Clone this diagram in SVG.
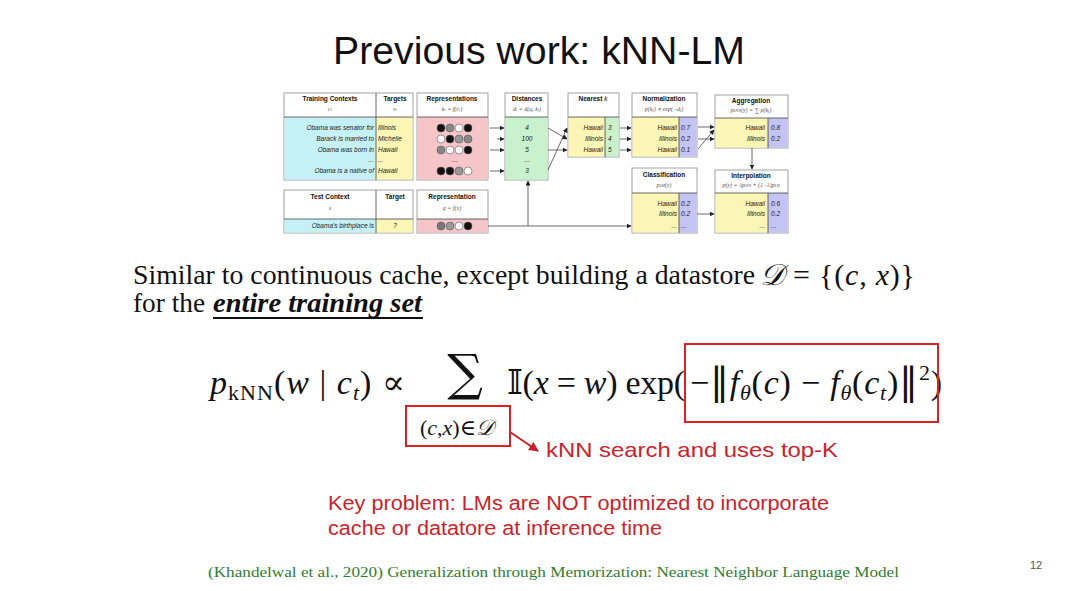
<svg xmlns="http://www.w3.org/2000/svg" width="1080" height="591" viewBox="0 0 1080 591">
<defs>
<style>
.t{font-family:"Liberation Sans",Arial,sans-serif;fill:#111}
.h{font-family:"Liberation Sans",Arial,sans-serif;font-size:6.5px;font-weight:bold;fill:#111;text-anchor:middle}
.s{font-family:"Liberation Serif",serif;font-size:6px;font-style:italic;fill:#555;text-anchor:middle}
.c{font-family:"Liberation Sans",Arial,sans-serif;font-size:6.5px;font-style:italic;fill:#222}
.r{text-anchor:end}
.m{text-anchor:middle}
.box{fill:#fff;stroke:#8a8a8a;stroke-width:0.8}
.cy{fill:#c5f1f6}
.ye{fill:#fbf6b5}
.pk{fill:#f5c5c8}
.gr{fill:#c8f1cc}
.bl{fill:#c3c3f4}
.ln{stroke:#444;stroke-width:0.8;fill:none}
.math{font-family:"Liberation Serif","DejaVu Serif",serif;fill:#111}
.red{fill:none;stroke:#e02020;stroke-width:2}
.rt{font-family:"Liberation Sans",Arial,sans-serif;fill:#c8232c}
</style>
<marker id="a" markerWidth="5" markerHeight="5" refX="4.5" refY="2.5" orient="auto" markerUnits="userSpaceOnUse"><path d="M0,0 L5,2.5 L0,5 z" fill="#222"/></marker>
<marker id="ra" markerWidth="10" markerHeight="10" refX="9" refY="5" orient="auto" markerUnits="userSpaceOnUse"><path d="M0,0 L10,5 L0,10 z" fill="#c8232c"/></marker>
</defs>
<rect width="1080" height="591" fill="#fff"/>

<text class="t" x="539" y="64" font-size="39" text-anchor="middle" textLength="412" lengthAdjust="spacingAndGlyphs">Previous work: kNN-LM</text>

<g id="training">
<rect class="box" x="284" y="93" width="129" height="87"/>
<rect class="cy" x="284.5" y="117" width="91.5" height="62.5"/>
<rect class="ye" x="376" y="117" width="36.5" height="62.5"/>
<line class="ln" x1="376" y1="93" x2="376" y2="180"/>
<line class="ln" x1="284" y1="117" x2="413" y2="117"/>
<text class="h" x="330" y="101">Training Contexts</text>
<text class="s" x="330" y="111">c<tspan font-size="4">i</tspan></text>
<text class="h" x="395" y="101">Targets</text>
<text class="s" x="395" y="111">v<tspan font-size="4">i</tspan></text>
<text class="c r" x="374" y="130">Obama was senator for</text>
<text class="c r" x="374" y="141">Barack is married to</text>
<text class="c r" x="374" y="152">Obama was born in</text>
<text class="c r" x="374" y="162">...</text>
<text class="c r" x="374" y="173">Obama is a native of</text>
<text class="c" x="378" y="130">Illinois</text>
<text class="c" x="378" y="141">Michelle</text>
<text class="c" x="378" y="152">Hawaii</text>
<text class="c" x="378" y="162">...</text>
<text class="c" x="378" y="173">Hawaii</text>
</g>

<g id="test-context">
<rect class="box" x="284" y="190" width="129" height="43"/>
<rect class="cy" x="284.5" y="219" width="91.5" height="13.5"/>
<rect class="ye" x="376" y="219" width="36.5" height="13.5"/>
<line class="ln" x1="376" y1="190" x2="376" y2="233"/>
<line class="ln" x1="284" y1="219" x2="413" y2="219"/>
<text class="h" x="330" y="199">Test Context</text>
<text class="s" x="330" y="210">x</text>
<text class="h" x="395" y="199">Target</text>
<text class="c r" x="374" y="228">Obama's birthplace is</text>
<text class="c m" x="395" y="228">?</text>
</g>

<g id="representations">
<rect class="box" x="417" y="93" width="71" height="87"/>
<rect class="pk" x="417.5" y="117" width="70" height="62.5"/>
<line class="ln" x1="417" y1="117" x2="488" y2="117"/>
<text class="h" x="452" y="101">Representations</text>
<text class="s" x="452" y="111">k<tspan font-size="4">i</tspan> = f(c<tspan font-size="4">i</tspan>)</text>
<g stroke="#555" stroke-width="0.6">
<circle cx="441" cy="128" r="4" fill="#111"/><circle cx="450" cy="128" r="4" fill="#888"/><circle cx="459" cy="128" r="4" fill="#fff"/><circle cx="468" cy="128" r="4" fill="#111"/>
<circle cx="441" cy="139" r="4" fill="#fff"/><circle cx="450" cy="139" r="4" fill="#111"/><circle cx="459" cy="139" r="4" fill="#999"/><circle cx="468" cy="139" r="4" fill="#888"/>
<circle cx="441" cy="150" r="4" fill="#888"/><circle cx="450" cy="150" r="4" fill="#fff"/><circle cx="459" cy="150" r="4" fill="#fff"/><circle cx="468" cy="150" r="4" fill="#111"/>
<circle cx="441" cy="171" r="4" fill="#111"/><circle cx="450" cy="171" r="4" fill="#111"/><circle cx="459" cy="171" r="4" fill="#999"/><circle cx="468" cy="171" r="4" fill="#fff"/>
</g>
<text class="c m" x="455" y="162">...</text>
</g>

<g id="test-representation">
<rect class="box" x="417" y="190" width="71" height="43"/>
<rect class="pk" x="417.5" y="219" width="70" height="13.5"/>
<line class="ln" x1="417" y1="219" x2="488" y2="219"/>
<text class="h" x="452" y="199">Representation</text>
<text class="s" x="452" y="210">q = f(x)</text>
<g stroke="#555" stroke-width="0.6">
<circle cx="441" cy="226" r="4" fill="#777"/><circle cx="450" cy="226" r="4" fill="#999"/><circle cx="459" cy="226" r="4" fill="#fff"/><circle cx="468" cy="226" r="4" fill="#111"/>
</g>
</g>

<g id="distances">
<rect class="box" x="505" y="93" width="43" height="87"/>
<rect class="gr" x="505.5" y="117" width="42" height="62.5"/>
<line class="ln" x1="505" y1="117" x2="548" y2="117"/>
<text class="h" x="527" y="101">Distances</text>
<text class="s" x="527" y="111">d<tspan font-size="4">i</tspan> = d(q, k<tspan font-size="4">i</tspan>)</text>
<text class="c m" x="527" y="130">4</text>
<text class="c m" x="527" y="141">100</text>
<text class="c m" x="527" y="152">5</text>
<text class="c m" x="527" y="162">...</text>
<text class="c m" x="527" y="173">3</text>
</g>

<g id="nearest">
<rect class="box" x="568" y="93" width="51" height="64"/>
<rect class="ye" x="568.5" y="117" width="37" height="39.5"/>
<rect class="gr" x="605" y="117" width="13.5" height="39.5"/>
<line class="ln" x1="568" y1="117" x2="619" y2="117"/>
<line class="ln" x1="605" y1="117" x2="605" y2="157"/>
<text class="h" x="593" y="101">Nearest <tspan font-style="italic" font-weight="normal">k</tspan></text>
<text class="c r" x="603" y="130">Hawaii</text><text class="c" x="608" y="130">3</text>
<text class="c r" x="603" y="141">Illinois</text><text class="c" x="608" y="141">4</text>
<text class="c r" x="603" y="152">Hawaii</text><text class="c" x="608" y="152">5</text>
</g>

<g id="normalization">
<rect class="box" x="632" y="93" width="65" height="64"/>
<rect class="ye" x="632.5" y="117" width="46.5" height="39.5"/>
<rect class="bl" x="679" y="117" width="17.5" height="39.5"/>
<line class="ln" x1="632" y1="117" x2="697" y2="117"/>
<line class="ln" x1="679" y1="117" x2="679" y2="157"/>
<text class="h" x="664" y="101">Normalization</text>
<text class="s" x="664" y="111">p(k<tspan font-size="4">j</tspan>) ∝ exp(−d<tspan font-size="4">j</tspan>)</text>
<text class="c r" x="677" y="130">Hawaii</text><text class="c" x="681" y="130">0.7</text>
<text class="c r" x="677" y="141">Illinois</text><text class="c" x="681" y="141">0.2</text>
<text class="c r" x="677" y="152">Hawaii</text><text class="c" x="681" y="152">0.1</text>
</g>

<g id="aggregation">
<rect class="box" x="715" y="95" width="73" height="53"/>
<rect class="ye" x="715.5" y="118" width="52.5" height="29.5"/>
<rect class="bl" x="768" y="118" width="19.5" height="29.5"/>
<line class="ln" x1="715" y1="118" x2="788" y2="118"/>
<line class="ln" x1="768" y1="118" x2="768" y2="148"/>
<text class="h" x="751" y="103">Aggregation</text>
<text class="s" x="751" y="112">p<tspan font-size="4">kNN</tspan>(y) = ∑ p(k<tspan font-size="4">j</tspan>)</text>
<text class="c r" x="765" y="130">Hawaii</text><text class="c" x="771" y="130">0.8</text>
<text class="c r" x="765" y="141">Illinois</text><text class="c" x="771" y="141">0.2</text>
</g>

<g id="classification">
<rect class="box" x="632" y="168" width="65" height="65"/>
<rect class="ye" x="632.5" y="193" width="46.5" height="39.5"/>
<rect class="bl" x="679" y="193" width="17.5" height="39.5"/>
<line class="ln" x1="632" y1="193" x2="697" y2="193"/>
<line class="ln" x1="679" y1="193" x2="679" y2="233"/>
<text class="h" x="664" y="177">Classification</text>
<text class="s" x="664" y="187">p<tspan font-size="4">LM</tspan>(y)</text>
<text class="c r" x="677" y="206">Hawaii</text><text class="c" x="681" y="206">0.2</text>
<text class="c r" x="677" y="216">Illinois</text><text class="c" x="681" y="216">0.2</text>
<text class="c r" x="677" y="228">...</text><text class="c" x="681" y="228">...</text>
</g>

<g id="interpolation">
<rect class="box" x="715" y="170" width="73" height="63"/>
<rect class="ye" x="715.5" y="193" width="52.5" height="39.5"/>
<rect class="bl" x="768" y="193" width="19.5" height="39.5"/>
<line class="ln" x1="715" y1="193" x2="788" y2="193"/>
<line class="ln" x1="768" y1="193" x2="768" y2="233"/>
<text class="h" x="751" y="178">Interpolation</text>
<text class="s" x="751" y="187" font-size="5">p(y) = λp<tspan font-size="3.5">kNN</tspan> + (1−λ)p<tspan font-size="3.5">LM</tspan></text>
<text class="c r" x="765" y="206">Hawaii</text><text class="c" x="771" y="206">0.6</text>
<text class="c r" x="765" y="216">Illinois</text><text class="c" x="771" y="216">0.2</text>
<text class="c r" x="765" y="228">...</text><text class="c" x="771" y="228">...</text>
</g>

<g id="connectors" class="ln" marker-end="url(#a)">
<line x1="490" y1="128" x2="504" y2="128"/>
<line x1="497" y1="139" x2="504" y2="139"/>
<line x1="490" y1="150" x2="504" y2="150"/>
<line x1="490" y1="171" x2="504" y2="171"/>
<polyline points="488,226 528,226 528,181"/>
<line x1="528" y1="226" x2="631" y2="226"/>
<line x1="548" y1="170" x2="567" y2="128"/>
<line x1="548" y1="128" x2="567" y2="139"/>
<line x1="548" y1="150" x2="567" y2="150"/>
<line x1="620" y1="128" x2="631" y2="128"/>
<line x1="620" y1="139" x2="631" y2="139"/>
<line x1="620" y1="150" x2="631" y2="150"/>
<line x1="698" y1="127" x2="714" y2="127"/>
<line x1="698" y1="149" x2="714" y2="130"/>
<line x1="698" y1="139" x2="714" y2="139"/>
<line x1="752" y1="148" x2="752" y2="169"/>
<line x1="697" y1="214" x2="714" y2="214"/>
</g>

<text class="math" x="133" y="284" font-size="28" textLength="622" lengthAdjust="spacingAndGlyphs">Similar to continuous cache, except building a datastore</text>
<text class="math" x="760" y="285" font-size="30" textLength="155" lengthAdjust="spacing"><tspan font-style="italic">𝒟</tspan> = {(<tspan font-style="italic">c</tspan>, <tspan font-style="italic">x</tspan>)}</text>
<text class="math" x="133" y="312" font-size="28" textLength="72" lengthAdjust="spacingAndGlyphs">for the</text>
<text class="math" x="213" y="312" font-size="28" font-weight="bold" font-style="italic" textLength="209" lengthAdjust="spacingAndGlyphs">entire training set</text>
<line x1="213" y1="318" x2="423" y2="318" stroke="#111" stroke-width="2"/>

<g id="formula" class="math">
<text y="394" font-size="34" textLength="195" lengthAdjust="spacing"><tspan x="210" font-style="italic">p</tspan><tspan font-size="22" dy="6">kNN</tspan><tspan dy="-6">(</tspan><tspan font-style="italic">w</tspan> | <tspan font-style="italic">c</tspan><tspan font-size="22" dy="6" font-style="italic">t</tspan><tspan dy="-6">) ∝</tspan></text>
<text x="465" y="390" font-size="50" text-anchor="middle" font-family="DejaVu Serif">∑</text>
<text x="457" y="435" font-size="22" text-anchor="middle">(<tspan font-style="italic">c</tspan>,<tspan font-style="italic">x</tspan>)∈<tspan font-style="italic">𝒟</tspan></text>
<text y="394" font-size="34" textLength="178" lengthAdjust="spacing"><tspan x="507">𝕀(</tspan><tspan font-style="italic">x</tspan> = <tspan font-style="italic">w</tspan>) exp(</text>
<text y="394" font-size="34" textLength="252" lengthAdjust="spacing"><tspan x="690">−</tspan><tspan font-family="DejaVu Serif" font-size="38">‖</tspan><tspan font-style="italic">f</tspan><tspan font-size="22" dy="6" font-style="italic">θ</tspan><tspan dy="-6">(</tspan><tspan font-style="italic">c</tspan>) − <tspan font-style="italic">f</tspan><tspan font-size="22" dy="6" font-style="italic">θ</tspan><tspan dy="-6">(</tspan><tspan font-style="italic">c</tspan><tspan font-size="22" dy="6" font-style="italic">t</tspan><tspan dy="-6">)</tspan><tspan font-family="DejaVu Serif" font-size="38">‖</tspan><tspan font-size="22" dy="-14">2</tspan><tspan dy="14">)</tspan></text>
</g>
<rect id="box-sum" class="red" x="406" y="406" width="104" height="40"/>
<rect id="box-dist" class="red" x="685" y="344" width="253" height="78"/>

<g id="annot">
<line x1="510" y1="432" x2="538" y2="451" stroke="#c8232c" stroke-width="2" marker-end="url(#ra)"/>
<text class="rt" x="546" y="457" font-size="21" textLength="292" lengthAdjust="spacingAndGlyphs">kNN search and uses top-K</text>
</g>

<text class="rt" x="328" y="510" font-size="20" textLength="501" lengthAdjust="spacingAndGlyphs">Key problem: LMs are NOT optimized to incorporate</text>
<text class="rt" x="328" y="535" font-size="20" textLength="334" lengthAdjust="spacingAndGlyphs">cache or datatore at inference time</text>

<text x="208" y="577" font-family="Liberation Serif,serif" font-size="15.5" fill="#2f7d32" textLength="691" lengthAdjust="spacingAndGlyphs">(Khandelwal et al., 2020) Generalization through Memorization: Nearest Neighbor Language Model</text>
<text x="1030" y="569" font-family="Liberation Sans,sans-serif" font-size="11" fill="#555">12</text>
</svg>
